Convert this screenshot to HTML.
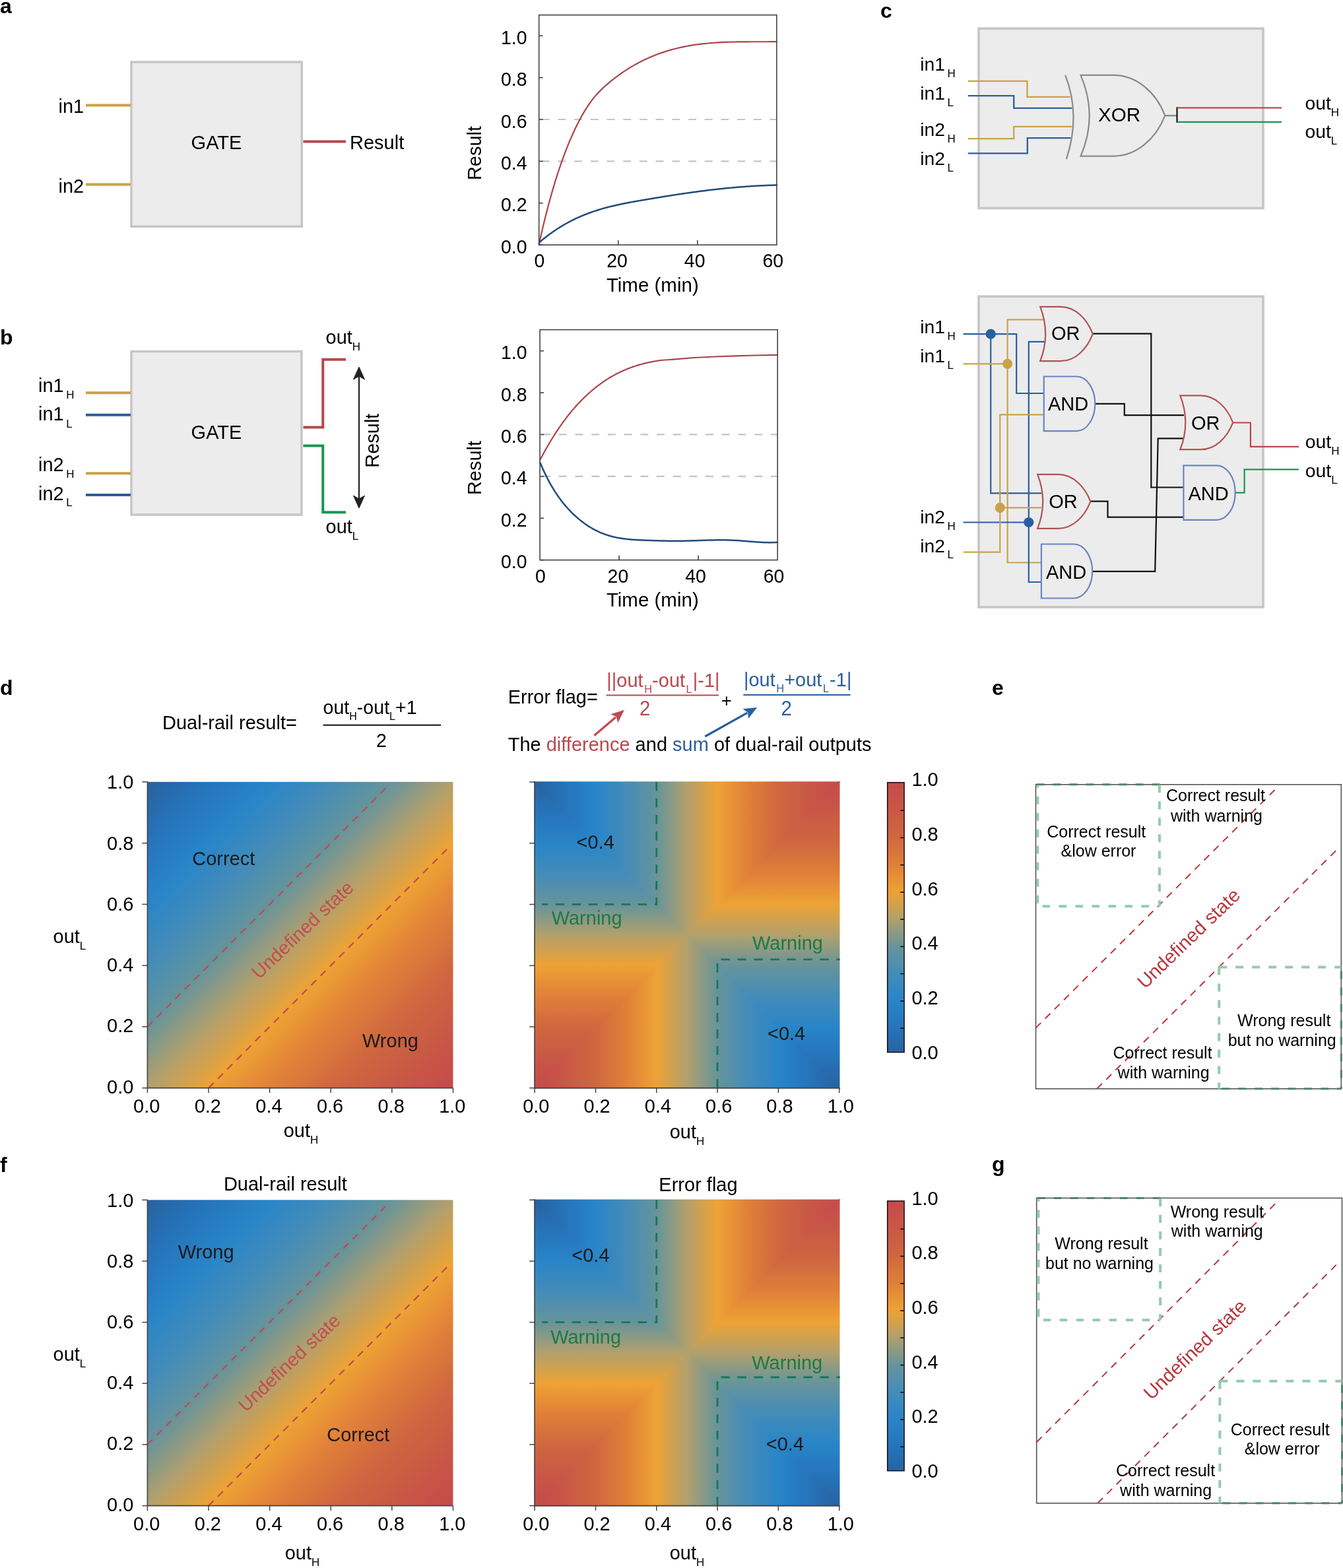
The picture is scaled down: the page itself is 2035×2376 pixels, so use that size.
<!DOCTYPE html>
<html><head><meta charset="utf-8"><title>Dual-rail logic figure</title>
<style>html,body{margin:0;padding:0;background:#fff;overflow:hidden;} svg{display:block;}</style>
</head><body>
<svg width="2035" height="2376" viewBox="0 0 2035 2376" font-family="'Liberation Sans', Arial, Helvetica, sans-serif"><defs><linearGradient id="gd1" gradientUnits="userSpaceOnUse" x1="223.4" y1="1184.8" x2="686.5" y2="1648.6"><stop offset="0.000" stop-color="#2861a0"/><stop offset="0.025" stop-color="#2866a6"/><stop offset="0.050" stop-color="#276aad"/><stop offset="0.075" stop-color="#266fb4"/><stop offset="0.100" stop-color="#2674ba"/><stop offset="0.125" stop-color="#2678be"/><stop offset="0.150" stop-color="#277cc1"/><stop offset="0.175" stop-color="#2881c4"/><stop offset="0.200" stop-color="#2885c8"/><stop offset="0.225" stop-color="#2f87c4"/><stop offset="0.250" stop-color="#3688c0"/><stop offset="0.275" stop-color="#3d8abd"/><stop offset="0.300" stop-color="#448cb9"/><stop offset="0.325" stop-color="#4c8eb2"/><stop offset="0.350" stop-color="#5590aa"/><stop offset="0.375" stop-color="#5e92a2"/><stop offset="0.400" stop-color="#66949b"/><stop offset="0.425" stop-color="#79978f"/><stop offset="0.450" stop-color="#8c9a84"/><stop offset="0.475" stop-color="#9f9d78"/><stop offset="0.500" stop-color="#b2a06c"/><stop offset="0.525" stop-color="#c1a05e"/><stop offset="0.550" stop-color="#d0a150"/><stop offset="0.575" stop-color="#dfa242"/><stop offset="0.600" stop-color="#eea234"/><stop offset="0.625" stop-color="#ea9a35"/><stop offset="0.650" stop-color="#e79136"/><stop offset="0.675" stop-color="#e48838"/><stop offset="0.700" stop-color="#e08039"/><stop offset="0.725" stop-color="#dc7a3a"/><stop offset="0.750" stop-color="#d8743c"/><stop offset="0.775" stop-color="#d36d3e"/><stop offset="0.800" stop-color="#cf673f"/><stop offset="0.825" stop-color="#cd6341"/><stop offset="0.850" stop-color="#cc6042"/><stop offset="0.875" stop-color="#ca5c44"/><stop offset="0.900" stop-color="#c85846"/><stop offset="0.925" stop-color="#c85448"/><stop offset="0.950" stop-color="#c75149"/><stop offset="0.975" stop-color="#c64e4a"/><stop offset="1.000" stop-color="#c64a4c"/></linearGradient><linearGradient id="ge1t" gradientUnits="userSpaceOnUse" x1="810.2" y1="0" x2="1271.7" y2="0"><stop offset="0.000" stop-color="#2861a0"/><stop offset="0.025" stop-color="#2866a6"/><stop offset="0.050" stop-color="#276aad"/><stop offset="0.075" stop-color="#266fb4"/><stop offset="0.100" stop-color="#2674ba"/><stop offset="0.125" stop-color="#2678be"/><stop offset="0.150" stop-color="#277cc1"/><stop offset="0.175" stop-color="#2881c4"/><stop offset="0.200" stop-color="#2885c8"/><stop offset="0.225" stop-color="#2f87c4"/><stop offset="0.250" stop-color="#3688c0"/><stop offset="0.275" stop-color="#3d8abd"/><stop offset="0.300" stop-color="#448cb9"/><stop offset="0.325" stop-color="#4c8eb2"/><stop offset="0.350" stop-color="#5590aa"/><stop offset="0.375" stop-color="#5e92a2"/><stop offset="0.400" stop-color="#66949b"/><stop offset="0.425" stop-color="#79978f"/><stop offset="0.450" stop-color="#8c9a84"/><stop offset="0.475" stop-color="#9f9d78"/><stop offset="0.500" stop-color="#b2a06c"/><stop offset="0.525" stop-color="#c1a05e"/><stop offset="0.550" stop-color="#d0a150"/><stop offset="0.575" stop-color="#dfa242"/><stop offset="0.600" stop-color="#eea234"/><stop offset="0.625" stop-color="#ea9a35"/><stop offset="0.650" stop-color="#e79136"/><stop offset="0.675" stop-color="#e48838"/><stop offset="0.700" stop-color="#e08039"/><stop offset="0.725" stop-color="#dc7a3a"/><stop offset="0.750" stop-color="#d8743c"/><stop offset="0.775" stop-color="#d36d3e"/><stop offset="0.800" stop-color="#cf673f"/><stop offset="0.825" stop-color="#cd6341"/><stop offset="0.850" stop-color="#cc6042"/><stop offset="0.875" stop-color="#ca5c44"/><stop offset="0.900" stop-color="#c85846"/><stop offset="0.925" stop-color="#c85448"/><stop offset="0.950" stop-color="#c75149"/><stop offset="0.975" stop-color="#c64e4a"/><stop offset="1.000" stop-color="#c64a4c"/></linearGradient><linearGradient id="ge1r" gradientUnits="userSpaceOnUse" x1="0" y1="1648.6" x2="0" y2="1185"><stop offset="0.000" stop-color="#2861a0"/><stop offset="0.025" stop-color="#2866a6"/><stop offset="0.050" stop-color="#276aad"/><stop offset="0.075" stop-color="#266fb4"/><stop offset="0.100" stop-color="#2674ba"/><stop offset="0.125" stop-color="#2678be"/><stop offset="0.150" stop-color="#277cc1"/><stop offset="0.175" stop-color="#2881c4"/><stop offset="0.200" stop-color="#2885c8"/><stop offset="0.225" stop-color="#2f87c4"/><stop offset="0.250" stop-color="#3688c0"/><stop offset="0.275" stop-color="#3d8abd"/><stop offset="0.300" stop-color="#448cb9"/><stop offset="0.325" stop-color="#4c8eb2"/><stop offset="0.350" stop-color="#5590aa"/><stop offset="0.375" stop-color="#5e92a2"/><stop offset="0.400" stop-color="#66949b"/><stop offset="0.425" stop-color="#79978f"/><stop offset="0.450" stop-color="#8c9a84"/><stop offset="0.475" stop-color="#9f9d78"/><stop offset="0.500" stop-color="#b2a06c"/><stop offset="0.525" stop-color="#c1a05e"/><stop offset="0.550" stop-color="#d0a150"/><stop offset="0.575" stop-color="#dfa242"/><stop offset="0.600" stop-color="#eea234"/><stop offset="0.625" stop-color="#ea9a35"/><stop offset="0.650" stop-color="#e79136"/><stop offset="0.675" stop-color="#e48838"/><stop offset="0.700" stop-color="#e08039"/><stop offset="0.725" stop-color="#dc7a3a"/><stop offset="0.750" stop-color="#d8743c"/><stop offset="0.775" stop-color="#d36d3e"/><stop offset="0.800" stop-color="#cf673f"/><stop offset="0.825" stop-color="#cd6341"/><stop offset="0.850" stop-color="#cc6042"/><stop offset="0.875" stop-color="#ca5c44"/><stop offset="0.900" stop-color="#c85846"/><stop offset="0.925" stop-color="#c85448"/><stop offset="0.950" stop-color="#c75149"/><stop offset="0.975" stop-color="#c64e4a"/><stop offset="1.000" stop-color="#c64a4c"/></linearGradient><linearGradient id="ge1b" gradientUnits="userSpaceOnUse" x1="810.2" y1="0" x2="1271.7" y2="0"><stop offset="0.000" stop-color="#c64a4c"/><stop offset="0.025" stop-color="#c64e4a"/><stop offset="0.050" stop-color="#c75149"/><stop offset="0.075" stop-color="#c85448"/><stop offset="0.100" stop-color="#c85846"/><stop offset="0.125" stop-color="#ca5c44"/><stop offset="0.150" stop-color="#cc6042"/><stop offset="0.175" stop-color="#cd6341"/><stop offset="0.200" stop-color="#cf673f"/><stop offset="0.225" stop-color="#d36d3e"/><stop offset="0.250" stop-color="#d8743c"/><stop offset="0.275" stop-color="#dc7a3a"/><stop offset="0.300" stop-color="#e08039"/><stop offset="0.325" stop-color="#e48838"/><stop offset="0.350" stop-color="#e79136"/><stop offset="0.375" stop-color="#ea9a35"/><stop offset="0.400" stop-color="#eea234"/><stop offset="0.425" stop-color="#dfa242"/><stop offset="0.450" stop-color="#d0a150"/><stop offset="0.475" stop-color="#c1a05e"/><stop offset="0.500" stop-color="#b2a06c"/><stop offset="0.525" stop-color="#9f9d78"/><stop offset="0.550" stop-color="#8c9a84"/><stop offset="0.575" stop-color="#79978f"/><stop offset="0.600" stop-color="#66949b"/><stop offset="0.625" stop-color="#5e92a2"/><stop offset="0.650" stop-color="#5590aa"/><stop offset="0.675" stop-color="#4c8eb2"/><stop offset="0.700" stop-color="#448cb9"/><stop offset="0.725" stop-color="#3d8abd"/><stop offset="0.750" stop-color="#3688c0"/><stop offset="0.775" stop-color="#2f87c4"/><stop offset="0.800" stop-color="#2885c8"/><stop offset="0.825" stop-color="#2881c4"/><stop offset="0.850" stop-color="#277cc1"/><stop offset="0.875" stop-color="#2678be"/><stop offset="0.900" stop-color="#2674ba"/><stop offset="0.925" stop-color="#266fb4"/><stop offset="0.950" stop-color="#276bad"/><stop offset="0.975" stop-color="#2866a6"/><stop offset="1.000" stop-color="#2861a0"/></linearGradient><linearGradient id="ge1l" gradientUnits="userSpaceOnUse" x1="0" y1="1648.6" x2="0" y2="1185"><stop offset="0.000" stop-color="#c64a4c"/><stop offset="0.025" stop-color="#c64e4a"/><stop offset="0.050" stop-color="#c75149"/><stop offset="0.075" stop-color="#c85448"/><stop offset="0.100" stop-color="#c85846"/><stop offset="0.125" stop-color="#ca5c44"/><stop offset="0.150" stop-color="#cc6042"/><stop offset="0.175" stop-color="#cd6341"/><stop offset="0.200" stop-color="#cf673f"/><stop offset="0.225" stop-color="#d36d3e"/><stop offset="0.250" stop-color="#d8743c"/><stop offset="0.275" stop-color="#dc7a3a"/><stop offset="0.300" stop-color="#e08039"/><stop offset="0.325" stop-color="#e48838"/><stop offset="0.350" stop-color="#e79136"/><stop offset="0.375" stop-color="#ea9a35"/><stop offset="0.400" stop-color="#eea234"/><stop offset="0.425" stop-color="#dfa242"/><stop offset="0.450" stop-color="#d0a150"/><stop offset="0.475" stop-color="#c1a05e"/><stop offset="0.500" stop-color="#b2a06c"/><stop offset="0.525" stop-color="#9f9d78"/><stop offset="0.550" stop-color="#8c9a84"/><stop offset="0.575" stop-color="#79978f"/><stop offset="0.600" stop-color="#66949b"/><stop offset="0.625" stop-color="#5e92a2"/><stop offset="0.650" stop-color="#5590aa"/><stop offset="0.675" stop-color="#4c8eb2"/><stop offset="0.700" stop-color="#448cb9"/><stop offset="0.725" stop-color="#3d8abd"/><stop offset="0.750" stop-color="#3688c0"/><stop offset="0.775" stop-color="#2f87c4"/><stop offset="0.800" stop-color="#2885c8"/><stop offset="0.825" stop-color="#2881c4"/><stop offset="0.850" stop-color="#277cc1"/><stop offset="0.875" stop-color="#2678be"/><stop offset="0.900" stop-color="#2674ba"/><stop offset="0.925" stop-color="#266fb4"/><stop offset="0.950" stop-color="#276bad"/><stop offset="0.975" stop-color="#2866a6"/><stop offset="1.000" stop-color="#2861a0"/></linearGradient><linearGradient id="gc1" gradientUnits="userSpaceOnUse" x1="0" y1="1594.5" x2="0" y2="1185.7"><stop offset="0.000" stop-color="#2863a3"/><stop offset="0.025" stop-color="#2768a9"/><stop offset="0.050" stop-color="#276caf"/><stop offset="0.075" stop-color="#2671b6"/><stop offset="0.100" stop-color="#2676bb"/><stop offset="0.125" stop-color="#277abf"/><stop offset="0.150" stop-color="#277ec2"/><stop offset="0.175" stop-color="#2882c6"/><stop offset="0.200" stop-color="#2a86c7"/><stop offset="0.225" stop-color="#3187c3"/><stop offset="0.250" stop-color="#3889bf"/><stop offset="0.275" stop-color="#3f8bbc"/><stop offset="0.300" stop-color="#468db7"/><stop offset="0.325" stop-color="#4f8faf"/><stop offset="0.350" stop-color="#5791a8"/><stop offset="0.375" stop-color="#6092a1"/><stop offset="0.400" stop-color="#6b9598"/><stop offset="0.425" stop-color="#7d988d"/><stop offset="0.450" stop-color="#909b81"/><stop offset="0.475" stop-color="#a39e75"/><stop offset="0.500" stop-color="#b5a069"/><stop offset="0.525" stop-color="#c4a15b"/><stop offset="0.550" stop-color="#d3a14d"/><stop offset="0.575" stop-color="#e2a240"/><stop offset="0.600" stop-color="#eda134"/><stop offset="0.625" stop-color="#ea9835"/><stop offset="0.650" stop-color="#e79037"/><stop offset="0.675" stop-color="#e38738"/><stop offset="0.700" stop-color="#df7f39"/><stop offset="0.725" stop-color="#db793b"/><stop offset="0.750" stop-color="#d7733c"/><stop offset="0.775" stop-color="#d36d3e"/><stop offset="0.800" stop-color="#cf673f"/><stop offset="0.825" stop-color="#cd6341"/><stop offset="0.850" stop-color="#cb5f43"/><stop offset="0.875" stop-color="#ca5c44"/><stop offset="0.900" stop-color="#c85846"/><stop offset="0.925" stop-color="#c75448"/><stop offset="0.950" stop-color="#c75149"/><stop offset="0.975" stop-color="#c64d4b"/><stop offset="1.000" stop-color="#c64a4c"/></linearGradient><linearGradient id="gd2" gradientUnits="userSpaceOnUse" x1="223.4" y1="1818.3" x2="686.5" y2="2281.6"><stop offset="0.000" stop-color="#2861a0"/><stop offset="0.025" stop-color="#2866a6"/><stop offset="0.050" stop-color="#276aad"/><stop offset="0.075" stop-color="#266fb4"/><stop offset="0.100" stop-color="#2674ba"/><stop offset="0.125" stop-color="#2678be"/><stop offset="0.150" stop-color="#277cc1"/><stop offset="0.175" stop-color="#2881c4"/><stop offset="0.200" stop-color="#2885c8"/><stop offset="0.225" stop-color="#2f87c4"/><stop offset="0.250" stop-color="#3688c0"/><stop offset="0.275" stop-color="#3d8abd"/><stop offset="0.300" stop-color="#448cb9"/><stop offset="0.325" stop-color="#4c8eb2"/><stop offset="0.350" stop-color="#5590aa"/><stop offset="0.375" stop-color="#5e92a2"/><stop offset="0.400" stop-color="#66949b"/><stop offset="0.425" stop-color="#79978f"/><stop offset="0.450" stop-color="#8c9a84"/><stop offset="0.475" stop-color="#9f9d78"/><stop offset="0.500" stop-color="#b2a06c"/><stop offset="0.525" stop-color="#c1a05e"/><stop offset="0.550" stop-color="#d0a150"/><stop offset="0.575" stop-color="#dfa242"/><stop offset="0.600" stop-color="#eea234"/><stop offset="0.625" stop-color="#ea9a35"/><stop offset="0.650" stop-color="#e79136"/><stop offset="0.675" stop-color="#e48838"/><stop offset="0.700" stop-color="#e08039"/><stop offset="0.725" stop-color="#dc7a3a"/><stop offset="0.750" stop-color="#d8743c"/><stop offset="0.775" stop-color="#d36d3e"/><stop offset="0.800" stop-color="#cf673f"/><stop offset="0.825" stop-color="#cd6341"/><stop offset="0.850" stop-color="#cc6042"/><stop offset="0.875" stop-color="#ca5c44"/><stop offset="0.900" stop-color="#c85846"/><stop offset="0.925" stop-color="#c85448"/><stop offset="0.950" stop-color="#c75149"/><stop offset="0.975" stop-color="#c64e4a"/><stop offset="1.000" stop-color="#c64a4c"/></linearGradient><linearGradient id="ge2t" gradientUnits="userSpaceOnUse" x1="810.2" y1="0" x2="1271.7" y2="0"><stop offset="0.000" stop-color="#2861a0"/><stop offset="0.025" stop-color="#2866a6"/><stop offset="0.050" stop-color="#276aad"/><stop offset="0.075" stop-color="#266fb4"/><stop offset="0.100" stop-color="#2674ba"/><stop offset="0.125" stop-color="#2678be"/><stop offset="0.150" stop-color="#277cc1"/><stop offset="0.175" stop-color="#2881c4"/><stop offset="0.200" stop-color="#2885c8"/><stop offset="0.225" stop-color="#2f87c4"/><stop offset="0.250" stop-color="#3688c0"/><stop offset="0.275" stop-color="#3d8abd"/><stop offset="0.300" stop-color="#448cb9"/><stop offset="0.325" stop-color="#4c8eb2"/><stop offset="0.350" stop-color="#5590aa"/><stop offset="0.375" stop-color="#5e92a2"/><stop offset="0.400" stop-color="#66949b"/><stop offset="0.425" stop-color="#79978f"/><stop offset="0.450" stop-color="#8c9a84"/><stop offset="0.475" stop-color="#9f9d78"/><stop offset="0.500" stop-color="#b2a06c"/><stop offset="0.525" stop-color="#c1a05e"/><stop offset="0.550" stop-color="#d0a150"/><stop offset="0.575" stop-color="#dfa242"/><stop offset="0.600" stop-color="#eea234"/><stop offset="0.625" stop-color="#ea9a35"/><stop offset="0.650" stop-color="#e79136"/><stop offset="0.675" stop-color="#e48838"/><stop offset="0.700" stop-color="#e08039"/><stop offset="0.725" stop-color="#dc7a3a"/><stop offset="0.750" stop-color="#d8743c"/><stop offset="0.775" stop-color="#d36d3e"/><stop offset="0.800" stop-color="#cf673f"/><stop offset="0.825" stop-color="#cd6341"/><stop offset="0.850" stop-color="#cc6042"/><stop offset="0.875" stop-color="#ca5c44"/><stop offset="0.900" stop-color="#c85846"/><stop offset="0.925" stop-color="#c85448"/><stop offset="0.950" stop-color="#c75149"/><stop offset="0.975" stop-color="#c64e4a"/><stop offset="1.000" stop-color="#c64a4c"/></linearGradient><linearGradient id="ge2r" gradientUnits="userSpaceOnUse" x1="0" y1="2281.6" x2="0" y2="1818.3"><stop offset="0.000" stop-color="#2861a0"/><stop offset="0.025" stop-color="#2866a6"/><stop offset="0.050" stop-color="#276aad"/><stop offset="0.075" stop-color="#266fb4"/><stop offset="0.100" stop-color="#2674ba"/><stop offset="0.125" stop-color="#2678be"/><stop offset="0.150" stop-color="#277cc1"/><stop offset="0.175" stop-color="#2881c4"/><stop offset="0.200" stop-color="#2885c8"/><stop offset="0.225" stop-color="#2f87c4"/><stop offset="0.250" stop-color="#3688c0"/><stop offset="0.275" stop-color="#3d8abd"/><stop offset="0.300" stop-color="#448cb9"/><stop offset="0.325" stop-color="#4c8eb2"/><stop offset="0.350" stop-color="#5590aa"/><stop offset="0.375" stop-color="#5e92a2"/><stop offset="0.400" stop-color="#66949b"/><stop offset="0.425" stop-color="#79978f"/><stop offset="0.450" stop-color="#8c9a84"/><stop offset="0.475" stop-color="#9f9d78"/><stop offset="0.500" stop-color="#b2a06c"/><stop offset="0.525" stop-color="#c1a05e"/><stop offset="0.550" stop-color="#d0a150"/><stop offset="0.575" stop-color="#dfa242"/><stop offset="0.600" stop-color="#eea234"/><stop offset="0.625" stop-color="#ea9a35"/><stop offset="0.650" stop-color="#e79136"/><stop offset="0.675" stop-color="#e48838"/><stop offset="0.700" stop-color="#e08039"/><stop offset="0.725" stop-color="#dc7a3a"/><stop offset="0.750" stop-color="#d8743c"/><stop offset="0.775" stop-color="#d36d3e"/><stop offset="0.800" stop-color="#cf673f"/><stop offset="0.825" stop-color="#cd6341"/><stop offset="0.850" stop-color="#cc6042"/><stop offset="0.875" stop-color="#ca5c44"/><stop offset="0.900" stop-color="#c85846"/><stop offset="0.925" stop-color="#c85448"/><stop offset="0.950" stop-color="#c75149"/><stop offset="0.975" stop-color="#c64e4a"/><stop offset="1.000" stop-color="#c64a4c"/></linearGradient><linearGradient id="ge2b" gradientUnits="userSpaceOnUse" x1="810.2" y1="0" x2="1271.7" y2="0"><stop offset="0.000" stop-color="#c64a4c"/><stop offset="0.025" stop-color="#c64e4a"/><stop offset="0.050" stop-color="#c75149"/><stop offset="0.075" stop-color="#c85448"/><stop offset="0.100" stop-color="#c85846"/><stop offset="0.125" stop-color="#ca5c44"/><stop offset="0.150" stop-color="#cc6042"/><stop offset="0.175" stop-color="#cd6341"/><stop offset="0.200" stop-color="#cf673f"/><stop offset="0.225" stop-color="#d36d3e"/><stop offset="0.250" stop-color="#d8743c"/><stop offset="0.275" stop-color="#dc7a3a"/><stop offset="0.300" stop-color="#e08039"/><stop offset="0.325" stop-color="#e48838"/><stop offset="0.350" stop-color="#e79136"/><stop offset="0.375" stop-color="#ea9a35"/><stop offset="0.400" stop-color="#eea234"/><stop offset="0.425" stop-color="#dfa242"/><stop offset="0.450" stop-color="#d0a150"/><stop offset="0.475" stop-color="#c1a05e"/><stop offset="0.500" stop-color="#b2a06c"/><stop offset="0.525" stop-color="#9f9d78"/><stop offset="0.550" stop-color="#8c9a84"/><stop offset="0.575" stop-color="#79978f"/><stop offset="0.600" stop-color="#66949b"/><stop offset="0.625" stop-color="#5e92a2"/><stop offset="0.650" stop-color="#5590aa"/><stop offset="0.675" stop-color="#4c8eb2"/><stop offset="0.700" stop-color="#448cb9"/><stop offset="0.725" stop-color="#3d8abd"/><stop offset="0.750" stop-color="#3688c0"/><stop offset="0.775" stop-color="#2f87c4"/><stop offset="0.800" stop-color="#2885c8"/><stop offset="0.825" stop-color="#2881c4"/><stop offset="0.850" stop-color="#277cc1"/><stop offset="0.875" stop-color="#2678be"/><stop offset="0.900" stop-color="#2674ba"/><stop offset="0.925" stop-color="#266fb4"/><stop offset="0.950" stop-color="#276bad"/><stop offset="0.975" stop-color="#2866a6"/><stop offset="1.000" stop-color="#2861a0"/></linearGradient><linearGradient id="ge2l" gradientUnits="userSpaceOnUse" x1="0" y1="2281.6" x2="0" y2="1818.3"><stop offset="0.000" stop-color="#c64a4c"/><stop offset="0.025" stop-color="#c64e4a"/><stop offset="0.050" stop-color="#c75149"/><stop offset="0.075" stop-color="#c85448"/><stop offset="0.100" stop-color="#c85846"/><stop offset="0.125" stop-color="#ca5c44"/><stop offset="0.150" stop-color="#cc6042"/><stop offset="0.175" stop-color="#cd6341"/><stop offset="0.200" stop-color="#cf673f"/><stop offset="0.225" stop-color="#d36d3e"/><stop offset="0.250" stop-color="#d8743c"/><stop offset="0.275" stop-color="#dc7a3a"/><stop offset="0.300" stop-color="#e08039"/><stop offset="0.325" stop-color="#e48838"/><stop offset="0.350" stop-color="#e79136"/><stop offset="0.375" stop-color="#ea9a35"/><stop offset="0.400" stop-color="#eea234"/><stop offset="0.425" stop-color="#dfa242"/><stop offset="0.450" stop-color="#d0a150"/><stop offset="0.475" stop-color="#c1a05e"/><stop offset="0.500" stop-color="#b2a06c"/><stop offset="0.525" stop-color="#9f9d78"/><stop offset="0.550" stop-color="#8c9a84"/><stop offset="0.575" stop-color="#79978f"/><stop offset="0.600" stop-color="#66949b"/><stop offset="0.625" stop-color="#5e92a2"/><stop offset="0.650" stop-color="#5590aa"/><stop offset="0.675" stop-color="#4c8eb2"/><stop offset="0.700" stop-color="#448cb9"/><stop offset="0.725" stop-color="#3d8abd"/><stop offset="0.750" stop-color="#3688c0"/><stop offset="0.775" stop-color="#2f87c4"/><stop offset="0.800" stop-color="#2885c8"/><stop offset="0.825" stop-color="#2881c4"/><stop offset="0.850" stop-color="#277cc1"/><stop offset="0.875" stop-color="#2678be"/><stop offset="0.900" stop-color="#2674ba"/><stop offset="0.925" stop-color="#266fb4"/><stop offset="0.950" stop-color="#276bad"/><stop offset="0.975" stop-color="#2866a6"/><stop offset="1.000" stop-color="#2861a0"/></linearGradient><linearGradient id="gc2" gradientUnits="userSpaceOnUse" x1="0" y1="2228.7" x2="0" y2="1819.9"><stop offset="0.000" stop-color="#2863a3"/><stop offset="0.025" stop-color="#2768a9"/><stop offset="0.050" stop-color="#276caf"/><stop offset="0.075" stop-color="#2671b6"/><stop offset="0.100" stop-color="#2676bb"/><stop offset="0.125" stop-color="#277abf"/><stop offset="0.150" stop-color="#277ec2"/><stop offset="0.175" stop-color="#2882c6"/><stop offset="0.200" stop-color="#2a86c7"/><stop offset="0.225" stop-color="#3187c3"/><stop offset="0.250" stop-color="#3889bf"/><stop offset="0.275" stop-color="#3f8bbc"/><stop offset="0.300" stop-color="#468db7"/><stop offset="0.325" stop-color="#4f8faf"/><stop offset="0.350" stop-color="#5791a8"/><stop offset="0.375" stop-color="#6092a1"/><stop offset="0.400" stop-color="#6b9598"/><stop offset="0.425" stop-color="#7d988d"/><stop offset="0.450" stop-color="#909b81"/><stop offset="0.475" stop-color="#a39e75"/><stop offset="0.500" stop-color="#b5a069"/><stop offset="0.525" stop-color="#c4a15b"/><stop offset="0.550" stop-color="#d3a14d"/><stop offset="0.575" stop-color="#e2a240"/><stop offset="0.600" stop-color="#eda134"/><stop offset="0.625" stop-color="#ea9835"/><stop offset="0.650" stop-color="#e79037"/><stop offset="0.675" stop-color="#e38738"/><stop offset="0.700" stop-color="#df7f39"/><stop offset="0.725" stop-color="#db793b"/><stop offset="0.750" stop-color="#d7733c"/><stop offset="0.775" stop-color="#d36d3e"/><stop offset="0.800" stop-color="#cf673f"/><stop offset="0.825" stop-color="#cd6341"/><stop offset="0.850" stop-color="#cb5f43"/><stop offset="0.875" stop-color="#ca5c44"/><stop offset="0.900" stop-color="#c85846"/><stop offset="0.925" stop-color="#c75448"/><stop offset="0.950" stop-color="#c75149"/><stop offset="0.975" stop-color="#c64d4b"/><stop offset="1.000" stop-color="#c64a4c"/></linearGradient></defs><rect width="2035" height="2376" fill="#fff"/><text x="0" y="20" font-size="32" font-weight="bold">a</text>
<text x="0" y="522" font-size="32" font-weight="bold">b</text>
<text x="1334" y="26.5" font-size="32" font-weight="bold">c</text>
<text x="0" y="1053" font-size="32" font-weight="bold">d</text>
<text x="1503" y="1052.5" font-size="32" font-weight="bold">e</text>
<text x="0" y="1776" font-size="32" font-weight="bold">f</text>
<text x="1503" y="1774.5" font-size="32" font-weight="bold">g</text>
<rect x="199" y="94" width="258.3" height="249.2" fill="#ececec" stroke="#c6c6c6" stroke-width="3.5"/>
<line x1="130" y1="159.5" x2="198" y2="159.5" stroke="#c9a24a" stroke-width="4"/>
<line x1="130" y1="279.5" x2="198" y2="279.5" stroke="#c9a24a" stroke-width="4"/>
<line x1="459.5" y1="214.6" x2="524" y2="214.6" stroke="#b8474c" stroke-width="4"/>
<text x="88.5" y="171" font-size="29">in1</text>
<text x="88.5" y="291.5" font-size="29">in2</text>
<text x="328" y="226" font-size="29" text-anchor="middle">GATE</text>
<text x="530" y="226" font-size="29">Result</text>
<rect x="199" y="532.5" width="258" height="247.5" fill="#ececec" stroke="#c6c6c6" stroke-width="3.5"/>
<line x1="130" y1="595.3" x2="198" y2="595.3" stroke="#c9a24a" stroke-width="4"/>
<line x1="130" y1="628.7" x2="198" y2="628.7" stroke="#2a5f9e" stroke-width="4"/>
<line x1="130" y1="717.2" x2="198" y2="717.2" stroke="#c9a24a" stroke-width="4"/>
<line x1="130" y1="750.1" x2="198" y2="750.1" stroke="#2a5f9e" stroke-width="4"/>
<text x="328" y="664.5" font-size="29" text-anchor="middle">GATE</text>
<path d="M459.5 647.4 H489.3 V544.8 H524" stroke="#b8474c" stroke-width="4" fill="none"/>
<path d="M459.5 675.4 H489.3 V776.2 H524" stroke="#1a9650" stroke-width="4" fill="none"/>
<line x1="544" y1="566" x2="544" y2="761" stroke="#222" stroke-width="2.2"/>
<path d="M544 556 L535.5 575 L544 570 L552.5 575 Z" stroke="#222" stroke-width="1" fill="#222"/>
<path d="M544 770 L535.5 751 L544 756 L552.5 751 Z" stroke="#222" stroke-width="1" fill="#222"/>
<text x="0" y="0" font-size="29" text-anchor="middle" transform="translate(573.5 667.7) rotate(-90)">Result</text>
<text x="58" y="594.2" font-size="29">in1<tspan dy="10" dx="3.5" font-size="17">H</tspan></text>
<text x="58" y="637" font-size="29">in1<tspan dy="11" dx="3.5" font-size="17">L</tspan></text>
<text x="58" y="713.7" font-size="29">in2<tspan dy="10" dx="3.5" font-size="17">H</tspan></text>
<text x="58" y="757.8" font-size="29">in2<tspan dy="9" dx="3.5" font-size="17">L</tspan></text>
<text x="493.5" y="521.4" font-size="29">out<tspan dy="10" font-size="17">H</tspan></text>
<text x="493.5" y="807.6" font-size="29">out<tspan dy="10" font-size="17">L</tspan></text>
<line x1="818.7" y1="181.02" x2="1175.9" y2="181.02" stroke="#c4c4c4" stroke-width="2.2" stroke-dasharray="12 12.7" stroke-dashoffset="-2"/>
<line x1="818.7" y1="244.38" x2="1175.9" y2="244.38" stroke="#c4c4c4" stroke-width="2.2" stroke-dasharray="12 12.7" stroke-dashoffset="-2"/>
<path d="M817.00 370.60 L817.10 368.53 L820.12 355.03 L823.14 342.08 L826.16 329.68 L829.18 317.80 L832.20 306.42 L835.22 295.52 L838.24 285.07 L841.26 275.05 L844.28 265.45 L847.30 256.25 L850.32 247.42 L853.34 238.97 L856.36 230.87 L859.38 223.12 L862.40 215.70 L865.42 208.59 L868.44 201.79 L871.46 195.29 L874.48 189.07 L877.50 183.14 L880.52 177.50 L883.54 172.14 L886.56 167.07 L889.58 162.28 L892.60 157.78 L895.62 153.56 L898.64 149.61 L901.66 145.92 L904.68 142.46 L907.71 139.21 L910.73 136.15 L913.75 133.25 L916.77 130.49 L919.79 127.85 L922.81 125.31 L925.83 122.84 L928.85 120.44 L931.87 118.11 L934.89 115.84 L937.91 113.64 L940.93 111.49 L943.95 109.41 L946.97 107.39 L949.99 105.43 L953.01 103.53 L956.03 101.68 L959.05 99.89 L962.07 98.16 L965.09 96.49 L968.11 94.87 L971.13 93.30 L974.15 91.79 L977.17 90.33 L980.19 88.91 L983.21 87.55 L986.23 86.24 L989.25 84.97 L992.27 83.76 L995.29 82.59 L998.31 81.46 L1001.33 80.38 L1004.35 79.34 L1007.37 78.35 L1010.39 77.40 L1013.41 76.49 L1016.43 75.62 L1019.45 74.78 L1022.47 73.99 L1025.49 73.23 L1028.51 72.51 L1031.53 71.83 L1034.55 71.18 L1037.57 70.56 L1040.59 69.98 L1043.61 69.43 L1046.63 68.91 L1049.65 68.42 L1052.67 67.96 L1055.69 67.53 L1058.71 67.12 L1061.73 66.74 L1064.75 66.39 L1067.77 66.06 L1070.79 65.76 L1073.81 65.48 L1076.83 65.22 L1079.85 64.98 L1082.87 64.76 L1085.89 64.56 L1088.92 64.38 L1091.94 64.22 L1094.96 64.07 L1097.98 63.94 L1101.00 63.83 L1104.02 63.73 L1107.04 63.64 L1110.06 63.56 L1113.08 63.50 L1116.10 63.44 L1119.12 63.40 L1122.14 63.36 L1125.16 63.33 L1128.18 63.31 L1131.20 63.29 L1134.22 63.28 L1137.24 63.27 L1140.26 63.27 L1143.28 63.27 L1146.30 63.26 L1149.32 63.26 L1152.34 63.26 L1155.36 63.26 L1158.38 63.25 L1161.40 63.25 L1164.42 63.23 L1167.44 63.22 L1170.46 63.19 L1173.48 63.16 L1176.50 63.13" stroke="#ab4449" stroke-width="2.2" fill="none" stroke-linecap="round" stroke-linejoin="round"/>
<path d="M817.00 370.60 L817.10 367.46 L819.36 365.52 L821.63 363.63 L823.89 361.79 L826.16 359.98 L828.42 358.21 L830.68 356.49 L832.95 354.81 L835.21 353.16 L837.48 351.56 L839.74 349.99 L842.01 348.46 L844.27 346.97 L846.53 345.51 L848.80 344.09 L851.06 342.71 L853.33 341.36 L855.59 340.04 L857.85 338.76 L860.12 337.51 L862.38 336.29 L864.65 335.11 L866.91 333.95 L869.18 332.83 L871.44 331.73 L873.70 330.67 L875.97 329.63 L878.23 328.62 L880.50 327.64 L882.76 326.68 L885.02 325.75 L887.29 324.85 L889.55 323.97 L891.82 323.12 L894.08 322.28 L896.35 321.48 L898.61 320.69 L900.87 319.93 L903.14 319.19 L905.40 318.46 L907.67 317.76 L909.93 317.08 L912.19 316.42 L914.46 315.77 L916.72 315.14 L918.99 314.53 L921.25 313.94 L923.52 313.36 L925.78 312.79 L928.04 312.24 L930.31 311.71 L932.57 311.18 L934.84 310.67 L937.10 310.18 L939.36 309.69 L941.63 309.21 L943.89 308.75 L946.16 308.29 L948.42 307.85 L950.68 307.41 L952.95 306.98 L955.21 306.55 L957.48 306.13 L959.74 305.72 L962.01 305.32 L964.27 304.92 L966.53 304.52 L968.80 304.13 L971.06 303.73 L973.33 303.35 L975.59 302.96 L977.85 302.57 L980.12 302.19 L982.38 301.81 L984.65 301.42 L986.91 301.04 L989.18 300.67 L991.44 300.29 L993.70 299.92 L995.97 299.54 L998.23 299.17 L1000.50 298.80 L1002.76 298.43 L1005.02 298.07 L1007.29 297.71 L1009.55 297.35 L1011.82 296.99 L1014.08 296.63 L1016.35 296.28 L1018.61 295.92 L1020.87 295.57 L1023.14 295.23 L1025.40 294.88 L1027.67 294.54 L1029.93 294.20 L1032.19 293.86 L1034.46 293.53 L1036.72 293.20 L1038.99 292.87 L1041.25 292.55 L1043.52 292.22 L1045.78 291.90 L1048.04 291.59 L1050.31 291.27 L1052.57 290.96 L1054.84 290.66 L1057.10 290.35 L1059.36 290.05 L1061.63 289.76 L1063.89 289.46 L1066.16 289.17 L1068.42 288.89 L1070.68 288.61 L1072.95 288.33 L1075.21 288.05 L1077.48 287.78 L1079.74 287.51 L1082.01 287.25 L1084.27 286.99 L1086.53 286.74 L1088.80 286.49 L1091.06 286.24 L1093.33 286.00 L1095.59 285.76 L1097.85 285.52 L1100.12 285.29 L1102.38 285.07 L1104.65 284.85 L1106.91 284.63 L1109.18 284.42 L1111.44 284.21 L1113.70 284.01 L1115.97 283.81 L1118.23 283.62 L1120.50 283.43 L1122.76 283.25 L1125.02 283.07 L1127.29 282.90 L1129.55 282.73 L1131.82 282.57 L1134.08 282.41 L1136.35 282.26 L1138.61 282.11 L1140.87 281.97 L1143.14 281.83 L1145.40 281.70 L1147.67 281.58 L1149.93 281.46 L1152.19 281.34 L1154.46 281.24 L1156.72 281.13 L1158.99 281.04 L1161.25 280.95 L1163.52 280.86 L1165.78 280.79 L1168.04 280.71 L1170.31 280.65 L1172.57 280.59 L1174.84 280.53 L1177.10 280.49" stroke="#234a7c" stroke-width="2.5" fill="none" stroke-linecap="round" stroke-linejoin="round"/>
<rect x="816.7" y="22.7" width="360.2" height="348.4" fill="none" stroke="#444" stroke-width="1.6"/>
<line x1="816.7" y1="371.1" x2="822.7" y2="371.1" stroke="#444" stroke-width="1.6"/>
<text x="798.5" y="383.6" font-size="28.5" text-anchor="end" transform="matrix(1 0 0 1.04 0 -15.34)">0.0</text>
<line x1="816.7" y1="307.74" x2="822.7" y2="307.74" stroke="#444" stroke-width="1.6"/>
<text x="798.5" y="320.24" font-size="28.5" text-anchor="end" transform="matrix(1 0 0 1.04 0 -12.81)">0.2</text>
<line x1="816.7" y1="244.38" x2="822.7" y2="244.38" stroke="#444" stroke-width="1.6"/>
<text x="798.5" y="256.88" font-size="28.5" text-anchor="end" transform="matrix(1 0 0 1.04 0 -10.28)">0.4</text>
<line x1="816.7" y1="181.02" x2="822.7" y2="181.02" stroke="#444" stroke-width="1.6"/>
<text x="798.5" y="193.52" font-size="28.5" text-anchor="end" transform="matrix(1 0 0 1.04 0 -7.74)">0.6</text>
<line x1="816.7" y1="117.66" x2="822.7" y2="117.66" stroke="#444" stroke-width="1.6"/>
<text x="798.5" y="130.16" font-size="28.5" text-anchor="end" transform="matrix(1 0 0 1.04 0 -5.21)">0.8</text>
<line x1="816.7" y1="54.3" x2="822.7" y2="54.3" stroke="#444" stroke-width="1.6"/>
<text x="798.5" y="66.8" font-size="28.5" text-anchor="end" transform="matrix(1 0 0 1.04 0 -2.67)">1.0</text>
<text x="817.5" y="405.1" font-size="28.5" text-anchor="middle" transform="matrix(1 0 0 1.04 0 -16.20)">0</text>
<line x1="936.77" y1="371.1" x2="936.77" y2="364.1" stroke="#444" stroke-width="1.6"/>
<text x="935" y="405.1" font-size="28.5" text-anchor="middle" transform="matrix(1 0 0 1.04 0 -16.20)">20</text>
<line x1="1056.83" y1="371.1" x2="1056.83" y2="364.1" stroke="#444" stroke-width="1.6"/>
<text x="1052.7" y="405.1" font-size="28.5" text-anchor="middle" transform="matrix(1 0 0 1.04 0 -16.20)">40</text>
<text x="1171.3" y="405.1" font-size="28.5" text-anchor="middle" transform="matrix(1 0 0 1.04 0 -16.20)">60</text>
<text x="988.8" y="441.8" font-size="29.5" text-anchor="middle">Time (min)</text>
<text x="0" y="0" font-size="29" text-anchor="middle" transform="translate(728.5 232) rotate(-90)">Result</text>
<line x1="820.1" y1="658.46" x2="1177.2" y2="658.46" stroke="#c4c4c4" stroke-width="2.2" stroke-dasharray="12 12.7" stroke-dashoffset="-2"/>
<line x1="820.1" y1="721.84" x2="1177.2" y2="721.84" stroke="#c4c4c4" stroke-width="2.2" stroke-dasharray="12 12.7" stroke-dashoffset="-2"/>
<path d="M818.50 696.55 L820.19 693.32 L821.89 690.15 L823.58 687.02 L825.27 683.94 L826.97 680.91 L828.66 677.93 L830.35 674.99 L832.05 672.10 L833.74 669.26 L835.43 666.46 L837.13 663.71 L838.82 661.00 L840.51 658.34 L842.21 655.72 L843.90 653.14 L845.59 650.61 L847.29 648.12 L848.98 645.67 L850.67 643.26 L852.37 640.90 L854.06 638.57 L855.75 636.28 L857.45 634.04 L859.14 631.83 L860.83 629.66 L862.53 627.53 L864.22 625.44 L865.91 623.39 L867.61 621.37 L869.30 619.39 L870.99 617.44 L872.68 615.53 L874.38 613.66 L876.07 611.81 L877.76 610.01 L879.46 608.23 L881.15 606.49 L882.84 604.79 L884.54 603.11 L886.23 601.47 L887.92 599.85 L889.62 598.27 L891.31 596.72 L893.00 595.20 L894.70 593.70 L896.39 592.24 L898.08 590.81 L899.78 589.40 L901.47 588.02 L903.16 586.67 L904.86 585.35 L906.55 584.06 L908.24 582.79 L909.94 581.55 L911.63 580.34 L913.32 579.15 L915.02 577.99 L916.71 576.85 L918.40 575.74 L920.10 574.66 L921.79 573.59 L923.48 572.56 L925.18 571.55 L926.87 570.56 L928.56 569.59 L930.26 568.65 L931.95 567.73 L933.64 566.83 L935.34 565.96 L937.03 565.11 L938.72 564.27 L940.42 563.46 L942.11 562.68 L943.80 561.91 L945.50 561.16 L947.19 560.43 L948.88 559.73 L950.58 559.04 L952.27 558.37 L953.96 557.72 L955.66 557.09 L957.35 556.47 L959.04 555.88 L960.74 555.30 L962.43 554.74 L964.12 554.20 L965.82 553.67 L967.51 553.16 L969.20 552.67 L970.89 552.19 L972.59 551.73 L974.28 551.28 L975.97 550.85 L977.67 550.43 L979.36 550.03 L981.05 549.64 L982.75 549.27 L984.44 548.90 L986.13 548.56 L987.83 548.22 L989.52 547.90 L991.21 547.59 L992.91 547.29 L994.60 547.00 L996.29 546.72 L997.99 546.46 L999.68 546.20 L1000.50 546.00 L1020.00 544.60 L1051.80 542.00 L1082.70 540.50 L1113.60 539.40 L1144.40 538.50 L1178.20 537.80" stroke="#ab4449" stroke-width="2.2" fill="none" stroke-linecap="round" stroke-linejoin="round"/>
<path d="M818.40 701.10 L820.21 705.32 L822.02 709.41 L823.82 713.36 L825.63 717.19 L827.44 720.90 L829.25 724.48 L831.06 727.94 L832.86 731.29 L834.67 734.53 L836.48 737.66 L838.29 740.68 L840.10 743.61 L841.90 746.43 L843.71 749.16 L845.52 751.80 L847.33 754.35 L849.14 756.82 L850.94 759.21 L852.75 761.51 L854.56 763.75 L856.37 765.91 L858.18 768.00 L859.98 770.03 L861.79 772.00 L863.60 773.91 L865.41 775.76 L867.22 777.56 L869.03 779.31 L870.83 781.02 L872.64 782.67 L874.45 784.28 L876.26 785.83 L878.07 787.34 L879.87 788.81 L881.68 790.23 L883.49 791.60 L885.30 792.93 L887.11 794.22 L888.91 795.47 L890.72 796.67 L892.53 797.83 L894.34 798.95 L896.15 800.03 L897.95 801.07 L899.76 802.07 L901.57 803.04 L903.38 803.96 L905.19 804.85 L906.99 805.70 L908.80 806.52 L910.61 807.30 L912.42 808.05 L914.23 808.76 L916.03 809.44 L917.84 810.08 L919.65 810.69 L921.46 811.27 L923.27 811.82 L925.07 812.34 L926.88 812.83 L928.69 813.29 L930.50 813.73 L932.31 814.13 L934.11 814.52 L935.92 814.87 L937.73 815.21 L939.54 815.52 L941.35 815.81 L943.15 816.08 L944.96 816.33 L946.77 816.57 L948.58 816.78 L950.39 816.98 L952.19 817.16 L954.00 817.33 L955.81 817.49 L957.62 817.63 L959.43 817.76 L961.24 817.88 L963.04 817.99 L964.85 818.09 L966.66 818.19 L968.47 818.28 L970.28 818.36 L972.08 818.44 L973.89 818.51 L975.70 818.58 L977.51 818.65 L979.32 818.71 L981.12 818.78 L982.93 818.85 L984.74 818.91 L986.55 818.98 L988.36 819.04 L990.16 819.11 L991.97 819.17 L993.78 819.23 L995.59 819.29 L997.40 819.34 L999.20 819.40 L1001.01 819.45 L1002.82 819.50 L1004.63 819.54 L1006.44 819.58 L1008.24 819.62 L1010.05 819.66 L1011.86 819.69 L1013.67 819.72 L1015.48 819.74 L1017.28 819.76 L1019.09 819.77 L1020.90 819.78 L1022.71 819.79 L1024.52 819.79 L1026.32 819.78 L1028.13 819.77 L1029.94 819.75 L1031.75 819.73 L1033.56 819.70 L1035.36 819.67 L1037.17 819.63 L1038.98 819.59 L1040.79 819.55 L1042.60 819.51 L1044.41 819.46 L1046.21 819.41 L1048.02 819.35 L1049.83 819.30 L1051.64 819.24 L1053.45 819.18 L1055.25 819.13 L1057.06 819.07 L1058.87 819.01 L1060.68 818.95 L1062.49 818.89 L1064.29 818.83 L1066.10 818.78 L1067.91 818.72 L1069.72 818.67 L1071.53 818.62 L1073.33 818.57 L1075.14 818.52 L1076.95 818.48 L1078.76 818.44 L1080.57 818.41 L1082.37 818.38 L1084.18 818.35 L1085.99 818.33 L1087.80 818.31 L1089.61 818.30 L1091.41 818.29 L1093.22 818.30 L1095.03 818.30 L1096.84 818.32 L1098.65 818.34 L1100.45 818.36 L1102.26 818.40 L1104.07 818.44 L1105.88 818.49 L1107.69 818.56 L1109.49 818.63 L1111.30 818.70 L1113.11 818.79 L1114.92 818.89 L1116.73 819.00 L1118.53 819.12 L1120.34 819.24 L1122.15 819.37 L1123.96 819.51 L1125.77 819.65 L1127.57 819.79 L1129.38 819.94 L1131.19 820.09 L1133.00 820.24 L1134.81 820.39 L1136.62 820.54 L1138.42 820.69 L1140.23 820.84 L1142.04 820.99 L1143.85 821.12 L1145.66 821.26 L1147.46 821.39 L1149.27 821.51 L1151.08 821.62 L1152.89 821.73 L1154.70 821.82 L1156.50 821.91 L1158.31 821.98 L1160.12 822.04 L1161.93 822.09 L1163.74 822.12 L1165.54 822.14 L1167.35 822.14 L1169.16 822.12 L1170.97 822.09 L1172.78 822.04 L1174.58 821.96 L1176.39 821.87 L1178.20 821.76" stroke="#234a7c" stroke-width="2.5" fill="none" stroke-linecap="round" stroke-linejoin="round"/>
<rect x="818.1" y="499.6" width="360.1" height="349" fill="none" stroke="#444" stroke-width="1.6"/>
<line x1="818.1" y1="848.6" x2="824.1" y2="848.6" stroke="#444" stroke-width="1.6"/>
<text x="798.5" y="861.1" font-size="28.5" text-anchor="end" transform="matrix(1 0 0 1.04 0 -34.44)">0.0</text>
<line x1="818.1" y1="785.22" x2="824.1" y2="785.22" stroke="#444" stroke-width="1.6"/>
<text x="798.5" y="797.72" font-size="28.5" text-anchor="end" transform="matrix(1 0 0 1.04 0 -31.91)">0.2</text>
<line x1="818.1" y1="721.84" x2="824.1" y2="721.84" stroke="#444" stroke-width="1.6"/>
<text x="798.5" y="734.34" font-size="28.5" text-anchor="end" transform="matrix(1 0 0 1.04 0 -29.37)">0.4</text>
<line x1="818.1" y1="658.46" x2="824.1" y2="658.46" stroke="#444" stroke-width="1.6"/>
<text x="798.5" y="670.96" font-size="28.5" text-anchor="end" transform="matrix(1 0 0 1.04 0 -26.84)">0.6</text>
<line x1="818.1" y1="595.08" x2="824.1" y2="595.08" stroke="#444" stroke-width="1.6"/>
<text x="798.5" y="607.58" font-size="28.5" text-anchor="end" transform="matrix(1 0 0 1.04 0 -24.30)">0.8</text>
<line x1="818.1" y1="531.7" x2="824.1" y2="531.7" stroke="#444" stroke-width="1.6"/>
<text x="798.5" y="544.2" font-size="28.5" text-anchor="end" transform="matrix(1 0 0 1.04 0 -21.77)">1.0</text>
<text x="818.9" y="882.6" font-size="28.5" text-anchor="middle" transform="matrix(1 0 0 1.04 0 -35.30)">0</text>
<line x1="938.13" y1="848.6" x2="938.13" y2="841.6" stroke="#444" stroke-width="1.6"/>
<text x="936.4" y="882.6" font-size="28.5" text-anchor="middle" transform="matrix(1 0 0 1.04 0 -35.30)">20</text>
<line x1="1058.17" y1="848.6" x2="1058.17" y2="841.6" stroke="#444" stroke-width="1.6"/>
<text x="1054" y="882.6" font-size="28.5" text-anchor="middle" transform="matrix(1 0 0 1.04 0 -35.30)">40</text>
<text x="1172.6" y="882.6" font-size="28.5" text-anchor="middle" transform="matrix(1 0 0 1.04 0 -35.30)">60</text>
<text x="988.8" y="919.3" font-size="29.5" text-anchor="middle">Time (min)</text>
<text x="0" y="0" font-size="29" text-anchor="middle" transform="translate(728.5 709) rotate(-90)">Result</text>
<rect x="1483" y="43.2" width="431" height="272.2" fill="#ececec" stroke="#c6c6c6" stroke-width="3.6"/>
<path d="M1466.8 122.9 H1556.5 V146.8 H1621.5" stroke="#c9a24a" stroke-width="2.3" fill="none"/>
<path d="M1466.8 145.2 H1536.2 V163.8 H1624.5" stroke="#2a5f9e" stroke-width="2.3" fill="none"/>
<path d="M1466.8 210.1 H1536.2 V191.8 H1624.5" stroke="#c9a24a" stroke-width="2.3" fill="none"/>
<path d="M1466.8 232.4 H1556.8 V209.1 H1622.5" stroke="#2a5f9e" stroke-width="2.3" fill="none"/>
<path d="M1614.2 113.9 Q1638 175.2 1615.8 241.1" stroke="#8a8a8a" stroke-width="2.2" fill="none"/>
<path d="M1637.5 113.9 H1687.2 C1722 113.9 1752 140 1765.3 175.2 C1752 210 1722 236.6 1687.2 236.6 H1637.5 Q1664 175.2 1637.5 113.9 Z" stroke="#8a8a8a" stroke-width="2.2" fill="#ececec"/>
<text x="1696.1" y="183.9" font-size="29.6" text-anchor="middle">XOR</text>
<line x1="1765.3" y1="175.2" x2="1783.5" y2="175.2" stroke="#8a8a8a" stroke-width="2.4"/>
<line x1="1783.5" y1="162.2" x2="1783.5" y2="186" stroke="#111" stroke-width="2.2"/>
<line x1="1783.5" y1="163.4" x2="1942" y2="163.4" stroke="#c0484e" stroke-width="2.3"/>
<line x1="1783.5" y1="184.9" x2="1942" y2="184.9" stroke="#1a9650" stroke-width="2.3"/>
<text x="1394.2" y="106.6" font-size="28.3">in1<tspan dy="10.2" dx="3.5" font-size="17">H</tspan></text>
<text x="1394.2" y="150.9" font-size="28.3">in1<tspan dy="10" dx="3.5" font-size="17">L</tspan></text>
<text x="1394.2" y="205.6" font-size="28.3">in2<tspan dy="10.2" dx="3.5" font-size="17">H</tspan></text>
<text x="1394.2" y="249.6" font-size="28.3">in2<tspan dy="10" dx="3.5" font-size="17">L</tspan></text>
<text x="1977.5" y="165.6" font-size="28.3">out<tspan dy="10" font-size="17">H</tspan></text>
<text x="1977.5" y="209" font-size="28.3">out<tspan dy="10" font-size="17">L</tspan></text>
<rect x="1483" y="449.2" width="431" height="470.8" fill="#ececec" stroke="#c6c6c6" stroke-width="3.6"/>
<path d="M1459.7 506.2 H1540.2 V596 H1582" stroke="#2a5f9e" stroke-width="2.2" fill="none"/>
<path d="M1501.2 506.2 V747.3 H1578" stroke="#2a5f9e" stroke-width="2.2" fill="none"/>
<path d="M1459.7 551.4 H1526.6" stroke="#c9a24a" stroke-width="2.2" fill="none"/>
<path d="M1582 484.4 H1526.6 V852.5 H1578" stroke="#c9a24a" stroke-width="2.2" fill="none"/>
<path d="M1583 517.9 H1558.8 V882 H1578" stroke="#2a5f9e" stroke-width="2.2" fill="none"/>
<path d="M1459.7 791.5 H1558.8" stroke="#2a5f9e" stroke-width="2.2" fill="none"/>
<path d="M1582 628.4 H1515.3 V836.6 H1459.7" stroke="#c9a24a" stroke-width="2.2" fill="none"/>
<path d="M1515.3 769.4 H1578" stroke="#c9a24a" stroke-width="2.2" fill="none"/>
<path d="M1655.8 505.7 H1744.3 V738.5 H1794" stroke="#111" stroke-width="2.2" fill="none"/>
<path d="M1659.4 611.8 H1703.8 V629.2 H1794" stroke="#111" stroke-width="2.2" fill="none"/>
<path d="M1793 664.3 H1754.7 L1750.2 865.8 H1655" stroke="#111" stroke-width="2.2" fill="none"/>
<path d="M1652.4 759.7 H1678.5 V783.7 H1794" stroke="#111" stroke-width="2.2" fill="none"/>
<path d="M1868.2 640.5 H1894.9 V676.8 H1968" stroke="#b8474c" stroke-width="2.2" fill="none"/>
<path d="M1871.7 746.6 H1885.6 V711.4 H1968" stroke="#1a9650" stroke-width="2.2" fill="none"/>
<path d="M1576.2 464.8 H1607.24 C1629.09 464.8 1647.06 482.93 1655.8 506 C1647.06 529.07 1629.09 547.2 1607.24 547.2 H1576.2 Q1592.12 506 1576.2 464.8 Z" stroke="#b25252" stroke-width="2.2" fill="#ececec"/>
<text x="1614.8" y="515.3" font-size="29" text-anchor="middle">OR</text>
<path d="M1581.8 570.5 H1631.3 A28 41.3 0 0 1 1631.3 653.1 H1581.8 Z" stroke="#6a84c2" stroke-width="2.2" fill="#ececec"/>
<text x="1618.5" y="622.2" font-size="29" text-anchor="middle">AND</text>
<path d="M1572.2 718.8 H1603.48 C1625.49 718.8 1643.59 736.86 1652.4 759.85 C1643.59 782.84 1625.49 800.9 1603.48 800.9 H1572.2 Q1588.24 759.85 1572.2 718.8 Z" stroke="#b25252" stroke-width="2.2" fill="#ececec"/>
<text x="1611" y="769.8" font-size="29" text-anchor="middle">OR</text>
<path d="M1577.9 824.5 H1627.2 A28 41 0 0 1 1627.2 906.5 H1577.9 Z" stroke="#6a84c2" stroke-width="2.2" fill="#ececec"/>
<text x="1615.5" y="876.6" font-size="29" text-anchor="middle">AND</text>
<path d="M1788.3 599.4 H1819.46 C1841.39 599.4 1859.43 617.4 1868.2 640.3 C1859.43 663.2 1841.39 681.2 1819.46 681.2 H1788.3 Q1804.28 640.3 1788.3 599.4 Z" stroke="#b25252" stroke-width="2.2" fill="#ececec"/>
<text x="1826.8" y="651.1" font-size="29" text-anchor="middle">OR</text>
<path d="M1793.4 705.3 H1843.7 A28 41.25 0 0 1 1843.7 787.8 H1793.4 Z" stroke="#6a84c2" stroke-width="2.2" fill="#ececec"/>
<text x="1831" y="757.5" font-size="29" text-anchor="middle">AND</text>
<circle cx="1501.2" cy="506.2" r="7.6" fill="#2a5f9e"/>
<circle cx="1526.6" cy="551.4" r="7.6" fill="#c9a24a"/>
<circle cx="1515.3" cy="769.4" r="7.6" fill="#c9a24a"/>
<circle cx="1558.8" cy="791.5" r="7.6" fill="#2a5f9e"/>
<text x="1394.2" y="504.8" font-size="28.3">in1<tspan dy="10" dx="3.5" font-size="17">H</tspan></text>
<text x="1394.2" y="549" font-size="28.3">in1<tspan dy="10" dx="3.5" font-size="17">L</tspan></text>
<text x="1394.2" y="792.6" font-size="28.3">in2<tspan dy="10" dx="3.5" font-size="17">H</tspan></text>
<text x="1394.2" y="836.6" font-size="28.3">in2<tspan dy="9.5" dx="3.5" font-size="17">L</tspan></text>
<text x="1977.8" y="679.4" font-size="28.3">out<tspan dy="10" font-size="17">H</tspan></text>
<text x="1977.8" y="723.4" font-size="28.3">out<tspan dy="10" font-size="17">L</tspan></text>
<text x="246" y="1105" font-size="29">Dual-rail result=</text>
<text x="489.5" y="1081.5" font-size="28.6">out<tspan dy="9.1" font-size="16">H</tspan><tspan dy="-9.1">-out</tspan><tspan dy="9.1" font-size="16">L</tspan><tspan dy="-9.1">+1</tspan></text>
<line x1="489.6" y1="1098.7" x2="668.2" y2="1098.7" stroke="#111" stroke-width="2"/>
<text x="578" y="1131.7" font-size="28.6" text-anchor="middle" transform="matrix(1 0 0 1.04 0 -45.27)">2</text>
<text x="769.7" y="1066" font-size="29">Error flag=</text>
<text x="919.3" y="1040.6" font-size="29" fill="#b8494f">||out<tspan dy="9.6" dx="1.5" font-size="16.5">H</tspan><tspan dy="-9.6">-out</tspan><tspan dy="9.6" dx="1.5" font-size="16.5">L</tspan><tspan dy="-9.6" dx="1">|-1|</tspan></text>
<line x1="918.6" y1="1053.5" x2="1089" y2="1053.5" stroke="#b8494f" stroke-width="2.2"/>
<text x="977.3" y="1083.7" font-size="29.5" text-anchor="middle" fill="#b8494f" transform="matrix(1 0 0 1.04 0 -43.35)">2</text>
<text x="1101" y="1070.5" font-size="27" text-anchor="middle">+</text>
<text x="1126.9" y="1039.6" font-size="29" fill="#2b5f9c">|out<tspan dy="9.6" dx="1.5" font-size="16.5">H</tspan><tspan dy="-9.6">+out</tspan><tspan dy="9.6" dx="1.5" font-size="16.5">L</tspan><tspan dy="-9.6" dx="1">-1|</tspan></text>
<line x1="1126.3" y1="1053" x2="1288.5" y2="1053" stroke="#2b5f9c" stroke-width="2.2"/>
<text x="1191.6" y="1083.7" font-size="29.5" text-anchor="middle" fill="#2b5f9c" transform="matrix(1 0 0 1.04 0 -43.35)">2</text>
<line x1="900.5" y1="1114.5" x2="933.06" y2="1086.73" stroke="#bf4b50" stroke-width="3.2"/>
<path d="M946 1075.7 L936.3 1095.14 L933.83 1086.08 L925.27 1082.21 Z" fill="#bf4b50"/>
<line x1="1068.3" y1="1116" x2="1132.36" y2="1080.19" stroke="#2a5f9e" stroke-width="3.2"/>
<path d="M1147.2 1071.9 L1133.89 1089.08 L1133.23 1079.71 L1125.59 1074.24 Z" fill="#2a5f9e"/>
<text x="769.7" y="1138.4" font-size="29">The <tspan fill="#b8494f">difference</tspan> and <tspan fill="#2b5f9c">sum</tspan> of dual-rail outputs</text>
<rect x="223.4" y="1184.8" width="463.1" height="463.8" fill="url(#gd1)" stroke="none" stroke-width="1"/>
<line x1="223.4" y1="1555.84" x2="586.93" y2="1191.76" stroke="#c04a50" stroke-width="2.2" stroke-dasharray="11 9"/>
<line x1="316.02" y1="1648.6" x2="679.55" y2="1284.52" stroke="#c04a50" stroke-width="2.2" stroke-dasharray="11 9"/>
<line x1="223.4" y1="1184.3" x2="223.4" y2="1648.6" stroke="#444" stroke-width="1.6"/>
<line x1="222.6" y1="1648.6" x2="686.5" y2="1648.6" stroke="#444" stroke-width="1.6"/>
<line x1="215.4" y1="1648.6" x2="223.4" y2="1648.6" stroke="#444" stroke-width="1.5"/>
<line x1="223.4" y1="1648.6" x2="223.4" y2="1656.1" stroke="#444" stroke-width="1.5"/>
<text x="222.2" y="1685.6" font-size="29" text-anchor="middle" transform="matrix(1 0 0 1.04 0 -67.42)">0.0</text>
<text x="202.4" y="1656.6" font-size="29" text-anchor="end" transform="matrix(1 0 0 1.04 0 -66.26)">0.0</text>
<line x1="215.4" y1="1555.84" x2="223.4" y2="1555.84" stroke="#444" stroke-width="1.5"/>
<line x1="316.02" y1="1648.6" x2="316.02" y2="1656.1" stroke="#444" stroke-width="1.5"/>
<text x="314.82" y="1685.6" font-size="29" text-anchor="middle" transform="matrix(1 0 0 1.04 0 -67.42)">0.2</text>
<text x="202.4" y="1564.34" font-size="29" text-anchor="end" transform="matrix(1 0 0 1.04 0 -62.57)">0.2</text>
<line x1="215.4" y1="1463.08" x2="223.4" y2="1463.08" stroke="#444" stroke-width="1.5"/>
<line x1="408.64" y1="1648.6" x2="408.64" y2="1656.1" stroke="#444" stroke-width="1.5"/>
<text x="407.44" y="1685.6" font-size="29" text-anchor="middle" transform="matrix(1 0 0 1.04 0 -67.42)">0.4</text>
<text x="202.4" y="1472.08" font-size="29" text-anchor="end" transform="matrix(1 0 0 1.04 0 -58.88)">0.4</text>
<line x1="215.4" y1="1370.32" x2="223.4" y2="1370.32" stroke="#444" stroke-width="1.5"/>
<line x1="501.26" y1="1648.6" x2="501.26" y2="1656.1" stroke="#444" stroke-width="1.5"/>
<text x="500.06" y="1685.6" font-size="29" text-anchor="middle" transform="matrix(1 0 0 1.04 0 -67.42)">0.6</text>
<text x="202.4" y="1379.82" font-size="29" text-anchor="end" transform="matrix(1 0 0 1.04 0 -55.19)">0.6</text>
<line x1="215.4" y1="1277.56" x2="223.4" y2="1277.56" stroke="#444" stroke-width="1.5"/>
<line x1="593.88" y1="1648.6" x2="593.88" y2="1656.1" stroke="#444" stroke-width="1.5"/>
<text x="592.68" y="1685.6" font-size="29" text-anchor="middle" transform="matrix(1 0 0 1.04 0 -67.42)">0.8</text>
<text x="202.4" y="1287.56" font-size="29" text-anchor="end" transform="matrix(1 0 0 1.04 0 -51.50)">0.8</text>
<line x1="215.4" y1="1184.8" x2="223.4" y2="1184.8" stroke="#444" stroke-width="1.5"/>
<line x1="686.5" y1="1648.6" x2="686.5" y2="1656.1" stroke="#444" stroke-width="1.5"/>
<text x="685.3" y="1685.6" font-size="29" text-anchor="middle" transform="matrix(1 0 0 1.04 0 -67.42)">1.0</text>
<text x="202.4" y="1195.3" font-size="29" text-anchor="end" transform="matrix(1 0 0 1.04 0 -47.81)">1.0</text>
<text x="291.3" y="1310.6" font-size="29" fill="#1a1a1a">Correct</text>
<text x="549" y="1587" font-size="29" fill="#1a1a1a">Wrong</text>
<text x="0" y="0" font-size="28.5" text-anchor="middle" fill="#c24d53" transform="translate(465 1416) rotate(-43.5)">Undefined state</text>
<text x="456" y="1723.4" font-size="29" text-anchor="middle">out<tspan dy="10" font-size="17">H</tspan></text>
<text x="80.5" y="1428.5" font-size="29">out<tspan dy="10" font-size="17">L</tspan></text>
<polygon points="810.2,1185 1271.7,1185 1040.95,1416.8" fill="url(#ge1t)" stroke="url(#ge1t)" stroke-width="1.6"/>
<polygon points="810.2,1648.6 1271.7,1648.6 1040.95,1416.8" fill="url(#ge1b)" stroke="url(#ge1b)" stroke-width="1.6"/>
<polygon points="1271.7,1185 1271.7,1648.6 1040.95,1416.8" fill="url(#ge1r)" stroke="url(#ge1r)" stroke-width="1.6"/>
<polygon points="810.2,1185 810.2,1648.6 1040.95,1416.8" fill="url(#ge1l)" stroke="url(#ge1l)" stroke-width="1.6"/>
<path d="M994.8 1185 V1370.44 H821.28" stroke="#1a7650" stroke-width="2.8" fill="none" stroke-dasharray="13.5 11.5"/>
<path d="M1087.1 1648.6 V1453.89 H1272.7" stroke="#1a7650" stroke-width="2.8" fill="none" stroke-dasharray="13.5 11.5"/>
<line x1="810.2" y1="1184.5" x2="810.2" y2="1648.6" stroke="#444" stroke-width="1.6"/>
<line x1="809.4" y1="1648.6" x2="1271.7" y2="1648.6" stroke="#444" stroke-width="1.6"/>
<line x1="802.2" y1="1648.6" x2="810.2" y2="1648.6" stroke="#444" stroke-width="1.5"/>
<line x1="810.2" y1="1648.6" x2="810.2" y2="1656.1" stroke="#444" stroke-width="1.5"/>
<text x="812.3" y="1685.6" font-size="29" text-anchor="middle" transform="matrix(1 0 0 1.04 0 -67.42)">0.0</text>
<line x1="802.2" y1="1555.88" x2="810.2" y2="1555.88" stroke="#444" stroke-width="1.5"/>
<line x1="902.5" y1="1648.6" x2="902.5" y2="1656.1" stroke="#444" stroke-width="1.5"/>
<text x="904.6" y="1685.6" font-size="29" text-anchor="middle" transform="matrix(1 0 0 1.04 0 -67.42)">0.2</text>
<line x1="802.2" y1="1463.16" x2="810.2" y2="1463.16" stroke="#444" stroke-width="1.5"/>
<line x1="994.8" y1="1648.6" x2="994.8" y2="1656.1" stroke="#444" stroke-width="1.5"/>
<text x="996.9" y="1685.6" font-size="29" text-anchor="middle" transform="matrix(1 0 0 1.04 0 -67.42)">0.4</text>
<line x1="802.2" y1="1370.44" x2="810.2" y2="1370.44" stroke="#444" stroke-width="1.5"/>
<line x1="1087.1" y1="1648.6" x2="1087.1" y2="1656.1" stroke="#444" stroke-width="1.5"/>
<text x="1089.2" y="1685.6" font-size="29" text-anchor="middle" transform="matrix(1 0 0 1.04 0 -67.42)">0.6</text>
<line x1="802.2" y1="1277.72" x2="810.2" y2="1277.72" stroke="#444" stroke-width="1.5"/>
<line x1="1179.4" y1="1648.6" x2="1179.4" y2="1656.1" stroke="#444" stroke-width="1.5"/>
<text x="1181.5" y="1685.6" font-size="29" text-anchor="middle" transform="matrix(1 0 0 1.04 0 -67.42)">0.8</text>
<line x1="802.2" y1="1185" x2="810.2" y2="1185" stroke="#444" stroke-width="1.5"/>
<line x1="1271.7" y1="1648.6" x2="1271.7" y2="1656.1" stroke="#444" stroke-width="1.5"/>
<text x="1273.8" y="1685.6" font-size="29" text-anchor="middle" transform="matrix(1 0 0 1.04 0 -67.42)">1.0</text>
<text x="873.6" y="1286.2" font-size="29" fill="#1a1a1a" transform="matrix(1 0 0 1.04 0 -51.45)">&lt;0.4</text>
<text x="1163" y="1576.4" font-size="29" fill="#1a1a1a" transform="matrix(1 0 0 1.04 0 -63.06)">&lt;0.4</text>
<text x="835.7" y="1401.3" font-size="29" fill="#1a7a48">Warning</text>
<text x="1140" y="1438.5" font-size="29" fill="#1a7a48">Warning</text>
<text x="1041" y="1724.5" font-size="29" text-anchor="middle">out<tspan dy="10" font-size="17">H</tspan></text>
<rect x="1344.7" y="1185.7" width="25.4" height="408.8" fill="url(#gc1)" stroke="#1a0a0a" stroke-width="1.5"/>
<line x1="1364.1" y1="1558.06" x2="1370.1" y2="1558.06" stroke="#1a0a0a" stroke-width="1.6"/>
<line x1="1364.1" y1="1516.82" x2="1370.1" y2="1516.82" stroke="#1a0a0a" stroke-width="1.6"/>
<line x1="1364.1" y1="1475.58" x2="1370.1" y2="1475.58" stroke="#1a0a0a" stroke-width="1.6"/>
<line x1="1364.1" y1="1434.34" x2="1370.1" y2="1434.34" stroke="#1a0a0a" stroke-width="1.6"/>
<line x1="1364.1" y1="1393.1" x2="1370.1" y2="1393.1" stroke="#1a0a0a" stroke-width="1.6"/>
<line x1="1364.1" y1="1351.86" x2="1370.1" y2="1351.86" stroke="#1a0a0a" stroke-width="1.6"/>
<line x1="1364.1" y1="1310.62" x2="1370.1" y2="1310.62" stroke="#1a0a0a" stroke-width="1.6"/>
<line x1="1364.1" y1="1269.38" x2="1370.1" y2="1269.38" stroke="#1a0a0a" stroke-width="1.6"/>
<line x1="1364.1" y1="1228.14" x2="1370.1" y2="1228.14" stroke="#1a0a0a" stroke-width="1.6"/>
<text x="1381.4" y="1604.9" font-size="29" transform="matrix(1 0 0 1.04 0 -64.20)">0.0</text>
<text x="1381.4" y="1522.2" font-size="29" transform="matrix(1 0 0 1.04 0 -60.89)">0.2</text>
<text x="1381.4" y="1439.5" font-size="29" transform="matrix(1 0 0 1.04 0 -57.58)">0.4</text>
<text x="1381.4" y="1356.8" font-size="29" transform="matrix(1 0 0 1.04 0 -54.27)">0.6</text>
<text x="1381.4" y="1274.1" font-size="29" transform="matrix(1 0 0 1.04 0 -50.96)">0.8</text>
<text x="1381.4" y="1191.4" font-size="29" transform="matrix(1 0 0 1.04 0 -47.66)">1.0</text>
<text x="432.4" y="1804.2" font-size="29" text-anchor="middle">Dual-rail result</text>
<rect x="223.4" y="1818.3" width="463.1" height="463.3" fill="url(#gd2)" stroke="none" stroke-width="1"/>
<line x1="223.4" y1="2188.94" x2="586.93" y2="1825.25" stroke="#c04a50" stroke-width="2.2" stroke-dasharray="11 9"/>
<line x1="316.02" y1="2281.6" x2="679.55" y2="1917.91" stroke="#c04a50" stroke-width="2.2" stroke-dasharray="11 9"/>
<line x1="223.4" y1="1817.8" x2="223.4" y2="2281.6" stroke="#444" stroke-width="1.6"/>
<line x1="222.6" y1="2281.6" x2="686.5" y2="2281.6" stroke="#444" stroke-width="1.6"/>
<line x1="215.4" y1="2281.6" x2="223.4" y2="2281.6" stroke="#444" stroke-width="1.5"/>
<line x1="223.4" y1="2281.6" x2="223.4" y2="2289.1" stroke="#444" stroke-width="1.5"/>
<text x="222.2" y="2318.6" font-size="29" text-anchor="middle" transform="matrix(1 0 0 1.04 0 -92.74)">0.0</text>
<text x="202.4" y="2289.6" font-size="29" text-anchor="end" transform="matrix(1 0 0 1.04 0 -91.58)">0.0</text>
<line x1="215.4" y1="2188.94" x2="223.4" y2="2188.94" stroke="#444" stroke-width="1.5"/>
<line x1="316.02" y1="2281.6" x2="316.02" y2="2289.1" stroke="#444" stroke-width="1.5"/>
<text x="314.82" y="2318.6" font-size="29" text-anchor="middle" transform="matrix(1 0 0 1.04 0 -92.74)">0.2</text>
<text x="202.4" y="2197.44" font-size="29" text-anchor="end" transform="matrix(1 0 0 1.04 0 -87.90)">0.2</text>
<line x1="215.4" y1="2096.28" x2="223.4" y2="2096.28" stroke="#444" stroke-width="1.5"/>
<line x1="408.64" y1="2281.6" x2="408.64" y2="2289.1" stroke="#444" stroke-width="1.5"/>
<text x="407.44" y="2318.6" font-size="29" text-anchor="middle" transform="matrix(1 0 0 1.04 0 -92.74)">0.4</text>
<text x="202.4" y="2105.28" font-size="29" text-anchor="end" transform="matrix(1 0 0 1.04 0 -84.21)">0.4</text>
<line x1="215.4" y1="2003.62" x2="223.4" y2="2003.62" stroke="#444" stroke-width="1.5"/>
<line x1="501.26" y1="2281.6" x2="501.26" y2="2289.1" stroke="#444" stroke-width="1.5"/>
<text x="500.06" y="2318.6" font-size="29" text-anchor="middle" transform="matrix(1 0 0 1.04 0 -92.74)">0.6</text>
<text x="202.4" y="2013.12" font-size="29" text-anchor="end" transform="matrix(1 0 0 1.04 0 -80.52)">0.6</text>
<line x1="215.4" y1="1910.96" x2="223.4" y2="1910.96" stroke="#444" stroke-width="1.5"/>
<line x1="593.88" y1="2281.6" x2="593.88" y2="2289.1" stroke="#444" stroke-width="1.5"/>
<text x="592.68" y="2318.6" font-size="29" text-anchor="middle" transform="matrix(1 0 0 1.04 0 -92.74)">0.8</text>
<text x="202.4" y="1920.96" font-size="29" text-anchor="end" transform="matrix(1 0 0 1.04 0 -76.84)">0.8</text>
<line x1="215.4" y1="1818.3" x2="223.4" y2="1818.3" stroke="#444" stroke-width="1.5"/>
<line x1="686.5" y1="2281.6" x2="686.5" y2="2289.1" stroke="#444" stroke-width="1.5"/>
<text x="685.3" y="2318.6" font-size="29" text-anchor="middle" transform="matrix(1 0 0 1.04 0 -92.74)">1.0</text>
<text x="202.4" y="1828.8" font-size="29" text-anchor="end" transform="matrix(1 0 0 1.04 0 -73.15)">1.0</text>
<text x="269.7" y="1907" font-size="29" fill="#1a1a1a">Wrong</text>
<text x="495.3" y="2184.3" font-size="29" fill="#1a1a1a">Correct</text>
<text x="0" y="0" font-size="28.5" text-anchor="middle" fill="#c24d53" transform="translate(445 2072) rotate(-43.5)">Undefined state</text>
<text x="458" y="2362.8" font-size="29" text-anchor="middle">out<tspan dy="10" font-size="17">H</tspan></text>
<text x="80.5" y="2062" font-size="29">out<tspan dy="10" font-size="17">L</tspan></text>
<text x="1058" y="1805" font-size="29" text-anchor="middle">Error flag</text>
<polygon points="810.2,1818.3 1271.7,1818.3 1040.95,2049.95" fill="url(#ge2t)" stroke="url(#ge2t)" stroke-width="1.6"/>
<polygon points="810.2,2281.6 1271.7,2281.6 1040.95,2049.95" fill="url(#ge2b)" stroke="url(#ge2b)" stroke-width="1.6"/>
<polygon points="1271.7,1818.3 1271.7,2281.6 1040.95,2049.95" fill="url(#ge2r)" stroke="url(#ge2r)" stroke-width="1.6"/>
<polygon points="810.2,1818.3 810.2,2281.6 1040.95,2049.95" fill="url(#ge2l)" stroke="url(#ge2l)" stroke-width="1.6"/>
<path d="M994.8 1818.3 V2003.62 H821.28" stroke="#1a7650" stroke-width="2.8" fill="none" stroke-dasharray="13.5 11.5"/>
<path d="M1087.1 2281.6 V2087.01 H1272.7" stroke="#1a7650" stroke-width="2.8" fill="none" stroke-dasharray="13.5 11.5"/>
<line x1="810.2" y1="1817.8" x2="810.2" y2="2281.6" stroke="#444" stroke-width="1.6"/>
<line x1="809.4" y1="2281.6" x2="1271.7" y2="2281.6" stroke="#444" stroke-width="1.6"/>
<line x1="802.2" y1="2281.6" x2="810.2" y2="2281.6" stroke="#444" stroke-width="1.5"/>
<line x1="810.2" y1="2281.6" x2="810.2" y2="2289.1" stroke="#444" stroke-width="1.5"/>
<text x="812.3" y="2318.6" font-size="29" text-anchor="middle" transform="matrix(1 0 0 1.04 0 -92.74)">0.0</text>
<line x1="802.2" y1="2188.94" x2="810.2" y2="2188.94" stroke="#444" stroke-width="1.5"/>
<line x1="902.5" y1="2281.6" x2="902.5" y2="2289.1" stroke="#444" stroke-width="1.5"/>
<text x="904.6" y="2318.6" font-size="29" text-anchor="middle" transform="matrix(1 0 0 1.04 0 -92.74)">0.2</text>
<line x1="802.2" y1="2096.28" x2="810.2" y2="2096.28" stroke="#444" stroke-width="1.5"/>
<line x1="994.8" y1="2281.6" x2="994.8" y2="2289.1" stroke="#444" stroke-width="1.5"/>
<text x="996.9" y="2318.6" font-size="29" text-anchor="middle" transform="matrix(1 0 0 1.04 0 -92.74)">0.4</text>
<line x1="802.2" y1="2003.62" x2="810.2" y2="2003.62" stroke="#444" stroke-width="1.5"/>
<line x1="1087.1" y1="2281.6" x2="1087.1" y2="2289.1" stroke="#444" stroke-width="1.5"/>
<text x="1089.2" y="2318.6" font-size="29" text-anchor="middle" transform="matrix(1 0 0 1.04 0 -92.74)">0.6</text>
<line x1="802.2" y1="1910.96" x2="810.2" y2="1910.96" stroke="#444" stroke-width="1.5"/>
<line x1="1179.4" y1="2281.6" x2="1179.4" y2="2289.1" stroke="#444" stroke-width="1.5"/>
<text x="1181.5" y="2318.6" font-size="29" text-anchor="middle" transform="matrix(1 0 0 1.04 0 -92.74)">0.8</text>
<line x1="802.2" y1="1818.3" x2="810.2" y2="1818.3" stroke="#444" stroke-width="1.5"/>
<line x1="1271.7" y1="2281.6" x2="1271.7" y2="2289.1" stroke="#444" stroke-width="1.5"/>
<text x="1273.8" y="2318.6" font-size="29" text-anchor="middle" transform="matrix(1 0 0 1.04 0 -92.74)">1.0</text>
<text x="866.3" y="1912.4" font-size="29" fill="#1a1a1a" transform="matrix(1 0 0 1.04 0 -76.50)">&lt;0.4</text>
<text x="1160.8" y="2197.6" font-size="29" fill="#1a1a1a" transform="matrix(1 0 0 1.04 0 -87.90)">&lt;0.4</text>
<text x="834.2" y="2036" font-size="29" fill="#1a7a48">Warning</text>
<text x="1139.3" y="2074.7" font-size="29" fill="#1a7a48">Warning</text>
<text x="1041" y="2362.7" font-size="29" text-anchor="middle">out<tspan dy="10" font-size="17">H</tspan></text>
<rect x="1344.7" y="1819.9" width="25.4" height="408.8" fill="url(#gc2)" stroke="#1a0a0a" stroke-width="1.5"/>
<line x1="1364.1" y1="2192.26" x2="1370.1" y2="2192.26" stroke="#1a0a0a" stroke-width="1.6"/>
<line x1="1364.1" y1="2151.02" x2="1370.1" y2="2151.02" stroke="#1a0a0a" stroke-width="1.6"/>
<line x1="1364.1" y1="2109.78" x2="1370.1" y2="2109.78" stroke="#1a0a0a" stroke-width="1.6"/>
<line x1="1364.1" y1="2068.54" x2="1370.1" y2="2068.54" stroke="#1a0a0a" stroke-width="1.6"/>
<line x1="1364.1" y1="2027.3" x2="1370.1" y2="2027.3" stroke="#1a0a0a" stroke-width="1.6"/>
<line x1="1364.1" y1="1986.06" x2="1370.1" y2="1986.06" stroke="#1a0a0a" stroke-width="1.6"/>
<line x1="1364.1" y1="1944.82" x2="1370.1" y2="1944.82" stroke="#1a0a0a" stroke-width="1.6"/>
<line x1="1364.1" y1="1903.58" x2="1370.1" y2="1903.58" stroke="#1a0a0a" stroke-width="1.6"/>
<line x1="1364.1" y1="1862.34" x2="1370.1" y2="1862.34" stroke="#1a0a0a" stroke-width="1.6"/>
<text x="1381.4" y="2239.1" font-size="29" transform="matrix(1 0 0 1.04 0 -89.56)">0.0</text>
<text x="1381.4" y="2156.4" font-size="29" transform="matrix(1 0 0 1.04 0 -86.26)">0.2</text>
<text x="1381.4" y="2073.7" font-size="29" transform="matrix(1 0 0 1.04 0 -82.95)">0.4</text>
<text x="1381.4" y="1991" font-size="29" transform="matrix(1 0 0 1.04 0 -79.64)">0.6</text>
<text x="1381.4" y="1908.3" font-size="29" transform="matrix(1 0 0 1.04 0 -76.33)">0.8</text>
<text x="1381.4" y="1825.6" font-size="29" transform="matrix(1 0 0 1.04 0 -73.02)">1.0</text>
<rect x="1569.5" y="1188.8" width="462.8" height="461" fill="#fff" stroke="#555" stroke-width="1.6"/>
<line x1="1569.5" y1="1557.6" x2="1932.8" y2="1195.71" stroke="#b8383f" stroke-width="2" stroke-dasharray="11 9"/>
<line x1="1662.06" y1="1649.8" x2="2025.36" y2="1287.91" stroke="#b8383f" stroke-width="2" stroke-dasharray="11 9"/>
<line x1="1570.5" y1="1188.8" x2="1756.93" y2="1188.8" stroke="#4c8466" stroke-width="3" stroke-dasharray="12 13"/>
<line x1="1572.3" y1="1190.8" x2="1572.3" y2="1373.2" stroke="#93cbac" stroke-width="4" stroke-dasharray="12 13" stroke-dashoffset="-16"/>
<line x1="1756.93" y1="1188.8" x2="1756.93" y2="1373.2" stroke="#93cbac" stroke-width="4" stroke-dasharray="12 13" stroke-dashoffset="-0.5"/>
<line x1="1573.5" y1="1373.2" x2="1756.93" y2="1373.2" stroke="#93cbac" stroke-width="4" stroke-dasharray="11.5 13.5" stroke-dashoffset="-6"/>
<line x1="1847.18" y1="1465.4" x2="2032.3" y2="1465.4" stroke="#93cbac" stroke-width="4" stroke-dasharray="12 13"/>
<line x1="1847.18" y1="1465.4" x2="1847.18" y2="1649.8" stroke="#93cbac" stroke-width="4" stroke-dasharray="12 13"/>
<line x1="2032.3" y1="1465.4" x2="2032.3" y2="1649.8" stroke="#4c8466" stroke-width="3" stroke-dasharray="12 13" stroke-dashoffset="-6"/>
<line x1="1851.18" y1="1649.8" x2="2032.3" y2="1649.8" stroke="#4c8466" stroke-width="3" stroke-dasharray="12 13"/>
<text x="1661.2" y="1268.6" font-size="25" text-anchor="middle">Correct result</text>
<text x="1664.5" y="1298.3" font-size="25" text-anchor="middle">&amp;low error</text>
<text x="1842" y="1214" font-size="25" text-anchor="middle">Correct result</text>
<text x="1843.5" y="1244.5" font-size="25" text-anchor="middle">with warning</text>
<text x="1945.7" y="1554.6" font-size="25" text-anchor="middle">Wrong result</text>
<text x="1942.7" y="1585.2" font-size="25" text-anchor="middle">but no warning</text>
<text x="1761.6" y="1603.9" font-size="25" text-anchor="middle">Correct result</text>
<text x="1763.1" y="1634" font-size="25" text-anchor="middle">with warning</text>
<text x="0" y="0" font-size="29" text-anchor="middle" fill="#b8383f" transform="translate(1808 1429) rotate(-44)">Undefined state</text>
<rect x="1570.7" y="1815.4" width="462.8" height="462.4" fill="#fff" stroke="#555" stroke-width="1.6"/>
<line x1="1570.7" y1="2185.32" x2="1934" y2="1822.34" stroke="#b8383f" stroke-width="2" stroke-dasharray="11 9"/>
<line x1="1663.26" y1="2277.8" x2="2026.56" y2="1914.82" stroke="#b8383f" stroke-width="2" stroke-dasharray="11 9"/>
<line x1="1571.7" y1="1815.4" x2="1758.13" y2="1815.4" stroke="#4c8466" stroke-width="3" stroke-dasharray="12 13"/>
<line x1="1573.5" y1="1817.4" x2="1573.5" y2="2000.36" stroke="#93cbac" stroke-width="4" stroke-dasharray="12 13" stroke-dashoffset="-16"/>
<line x1="1758.13" y1="1815.4" x2="1758.13" y2="2000.36" stroke="#93cbac" stroke-width="4" stroke-dasharray="12 13" stroke-dashoffset="-0.5"/>
<line x1="1574.7" y1="2000.36" x2="1758.13" y2="2000.36" stroke="#93cbac" stroke-width="4" stroke-dasharray="11.5 13.5" stroke-dashoffset="-6"/>
<line x1="1848.38" y1="2092.84" x2="2033.5" y2="2092.84" stroke="#93cbac" stroke-width="4" stroke-dasharray="12 13"/>
<line x1="1848.38" y1="2092.84" x2="1848.38" y2="2277.8" stroke="#93cbac" stroke-width="4" stroke-dasharray="12 13"/>
<line x1="2033.5" y1="2092.84" x2="2033.5" y2="2277.8" stroke="#4c8466" stroke-width="3" stroke-dasharray="12 13" stroke-dashoffset="-6"/>
<line x1="1852.38" y1="2277.8" x2="2033.5" y2="2277.8" stroke="#4c8466" stroke-width="3" stroke-dasharray="12 13"/>
<text x="1669" y="1893.2" font-size="25" text-anchor="middle">Wrong result</text>
<text x="1666" y="1923" font-size="25" text-anchor="middle">but no warning</text>
<text x="1844.3" y="1844.8" font-size="25" text-anchor="middle">Wrong result</text>
<text x="1844.3" y="1873.8" font-size="25" text-anchor="middle">with warning</text>
<text x="1939.7" y="2174.7" font-size="25" text-anchor="middle">Correct result</text>
<text x="1942.7" y="2204.4" font-size="25" text-anchor="middle">&amp;low error</text>
<text x="1766.1" y="2236.6" font-size="25" text-anchor="middle">Correct result</text>
<text x="1766.6" y="2266.9" font-size="25" text-anchor="middle">with warning</text>
<text x="0" y="0" font-size="29" text-anchor="middle" fill="#b8383f" transform="translate(1817.5 2052) rotate(-44)">Undefined state</text></svg>
</body></html>
